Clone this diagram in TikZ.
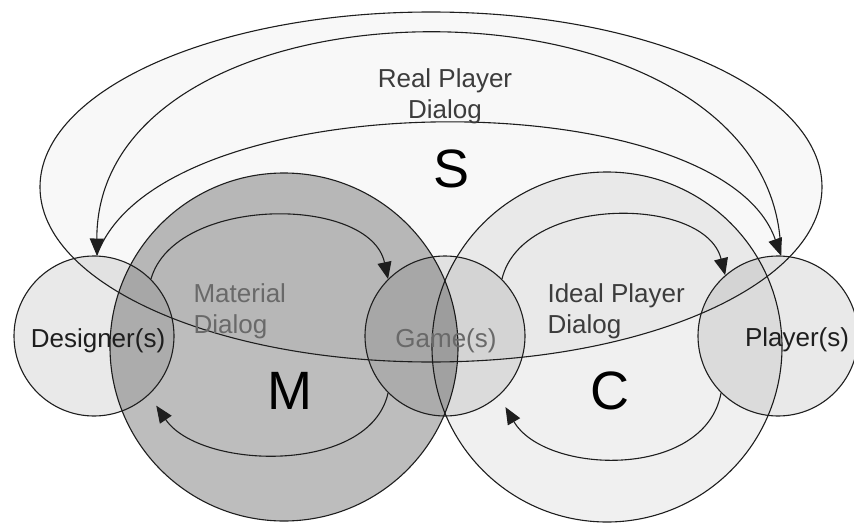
\documentclass[tikz,border=0pt]{standalone}
\usepackage{fontspec}
\setmainfont{Liberation Sans}
\usetikzlibrary{shapes, positioning, arrows.meta}
\definecolor{InkGray}{RGB}{30, 30, 30}
\definecolor{MidGray}{RGB}{60, 60, 60}
\definecolor{SoftGray}{RGB}{105, 105, 105}
\definecolor{RealmFill}{RGB}{248, 248, 248}

\begin{document}
\begin{tikzpicture}[x=1pt, y=-1pt, line width=1.1pt,
    blob/.style={circle, draw=InkGray, fill=black, inner sep=0pt},
    dialog/.style={draw=InkGray, -{Triangle[length=17pt, width=14pt]}},
    txt/.style={inner sep=0pt, font=\fontsize{26}{31}\selectfont},
    letter/.style={inner sep=0pt, anchor=base, font=\fontsize{54}{60}\selectfont}]
    % Frame
    \useasboundingbox (0,0) rectangle (854,524);
    \fill[white] (0,0) rectangle (854,524);
    % Shared ground of the real players
    \node[ellipse, fill=RealmFill, minimum width=782pt, minimum height=350pt, inner sep=0pt] (sRealm) at (431,187) {};
    % Big realms: material and ideal player
    \foreach \n/\x/\r/\o in {mRealm/284/174/0.26, cRealm/607/175/0.06} {
        \node[blob, minimum size=2*\r pt, fill opacity=\o] (\n) at (\x,347) {};
    }
    % Actors
    \foreach \n/\x/\o in {designer/94/0.085, game/445/0.085, player/778/0.085} {
        \node[blob, minimum size=160pt, fill opacity=\o] (\n) at (\x,336) {};
    }
    % Outline of the shared ground
    \draw[InkGray] (sRealm.center) ellipse [x radius=391pt, y radius=175pt];
    % Real player dialog
    \draw[dialog] (player.88) .. controls (781,-40) and (97,-40) .. (designer.88);
    \draw[dialog] (designer.88) .. controls (160,80) and (720,80) .. (player.88);
    % Material dialog
    \draw[dialog] (designer.45) .. controls (175,195) and (370,195) .. (game.135);
    \draw[dialog, shorten >=13pt] (game.-135) .. controls (370,475) and (200,470) .. (designer.-47);
    % Ideal player dialog
    \draw[dialog] (game.45) .. controls (522,195) and (705,195) .. (player.131);
    \draw[dialog, shorten >=13pt] (player.-135) .. controls (705,480) and (545,475) .. (game.-48);
    % Labels
    \node[txt, align=center, text=MidGray] (realText) at (445,96) {Real Player\\Dialog};
    \node[txt, align=left, anchor=west, text=SoftGray] (materialText) at (193,311) {Material\\Dialog};
    \node[txt, align=left, anchor=west, text=MidGray] (idealText) at (547,311) {Ideal Player\\Dialog};
    \node[txt, anchor=base, text=InkGray] (designerText) at (98,347) {Designer(s)};
    \node[txt, anchor=base, text=SoftGray] (gameText) at (446,347) {Game(s)};
    \node[txt, anchor=base, text=InkGray] (playerText) at (797,346) {Player(s)};
    % Realm letters
    \node[letter] (sLetter) at (452,187) {S};
    \node[letter] (mLetter) at (290,409) {M};
    \node[letter] (cLetter) at (610,409) {C};
\end{tikzpicture}
\end{document}
